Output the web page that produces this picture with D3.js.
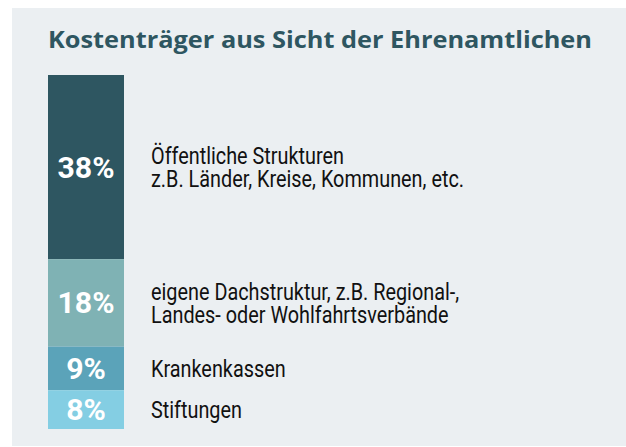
<!DOCTYPE html>
<html>
<head>
<meta charset="utf-8">
<script src="https://cdn.jsdelivr.net/npm/d3@7/dist/d3.min.js"></script>
<style>
  html, body { margin: 0; padding: 0; background: #fff; }
</style>
</head>
<body>
<div id="chart"></div>
<script>
(function(){
    // Data
    const title = "Kostenträger aus Sicht der Ehrenamtlichen";
    const categories = [
        ["Öffentliche Strukturen", "z.B. Länder, Kreise, Kommunen, etc."],
        ["eigene Dachstruktur, z.B. Regional-,", "Landes- oder Wohlfahrtsverbände"],
        ["Krankenkassen"],
        ["Stiftungen"]
    ];
    const values = [38, 18, 9, 8];
    const colors = ["#2e5661", "#7fb2b4", "#5ba3b9", "#84cee3"];

    // Configuration
    const width = 626, height = 447;
    const barX = 48, barW = 76;
    const barTop = 75, barBottom = 429;
    const labelX = 151;
    const lineGap = 23;
    const labelFont = "Roboto, 'Liberation Sans', sans-serif";

    const svg = d3.select("#chart")
        .append("svg")
        .attr("width", width)
        .attr("height", height);

    // Panel background
    svg.append("rect")
        .attr("x", 12).attr("y", 8)
        .attr("width", width - 12).attr("height", 438)
        .attr("fill", "#ebeff2");

    svg.append("text")
        .attr("x", 48).attr("y", 48)
        .style("font-family", "'Open Sans', sans-serif")
        .style("font-weight", 700)
        .style("font-size", "24px")
        .attr("fill", "#2e5661")
        .attr("textLength", 544)
        .attr("lengthAdjust", "spacingAndGlyphs")
        .text(title);

    // Stack the values
    const total = d3.sum(values);
    const stack = [];
    let acc = 0;
    values.forEach((v, i) => { stack.push({ v: v, i: i, y0: acc, y1: acc + v }); acc += v; });

    const y = d3.scaleLinear()
        .domain([0, total])
        .range([barTop, barBottom]);

    const seg = svg.selectAll(".seg")
        .data(stack)
        .enter().append("g")
        .attr("class", "seg");

    seg.append("rect")
        .attr("x", barX)
        .attr("width", barW)
        .attr("y", d => y(d.y0))
        .attr("height", d => y(d.y1) - y(d.y0))
        .attr("fill", d => colors[d.i]);

    // condense texts so they match the narrow font of the original
    function condense(sel, refWidth) {
        const f = refWidth / sel.nodes()[0].getComputedTextLength();
        sel.each(function(){
            const w = this.getComputedTextLength();
            d3.select(this).attr("textLength", w * f).attr("lengthAdjust", "spacingAndGlyphs");
        });
    }

    // percent labels
    const pct = seg.append("text")
        .attr("x", barX + barW / 2)
        .attr("y", d => (y(d.y0) + y(d.y1)) / 2 + 10.5)
        .attr("text-anchor", "middle")
        .style("font-family", labelFont)
        .style("font-weight", 700)
        .style("font-size", "29px")
        .attr("fill", "#fff")
        .text(d => d.v + "%");
    condense(pct, 57);

    // category labels, one text per line
    const lines = seg.selectAll(".line")
        .data(d => categories[d.i].map((t, j) => ({ t: t, j: j, n: categories[d.i].length, d: d })))
        .enter().append("text")
        .attr("class", "line")
        .attr("x", labelX)
        .attr("y", l => (y(l.d.y0) + y(l.d.y1)) / 2 + 8.5 - (l.n - 1) * lineGap / 2 + l.j * lineGap)
        .style("font-family", labelFont)
        .style("font-size", "23px")
        .attr("fill", "#111")
        .text(l => l.t);
    // reference width: "z.B. Länder, Kreise, Kommunen, etc." is ~313px wide
    const all = svg.selectAll(".line");
    const f = 313 / all.nodes()[1].getComputedTextLength();
    all.each(function(){
        const w = this.getComputedTextLength();
        d3.select(this).attr("textLength", w * f).attr("lengthAdjust", "spacingAndGlyphs");
    });
})();
</script>
</body>
</html>
